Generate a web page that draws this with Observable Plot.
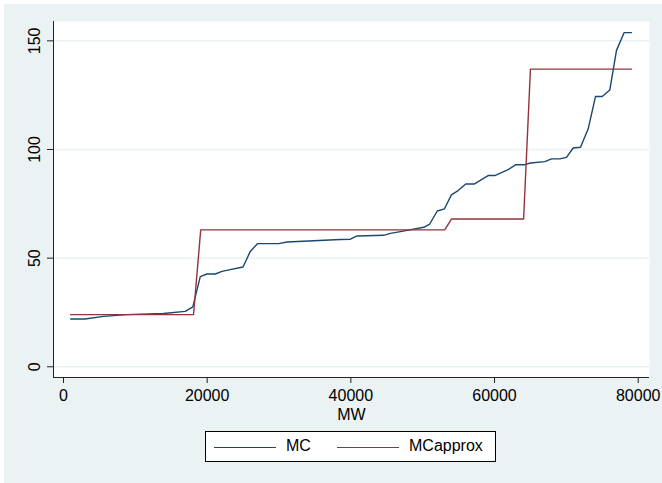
<!DOCTYPE html>
<html><head><meta charset="utf-8">
<script src="https://cdn.jsdelivr.net/npm/d3@7"></script>
<script src="https://cdn.jsdelivr.net/npm/@observablehq/plot@0.6"></script>
<style>
html,body{margin:0;padding:0;background:#fff;}
#page{position:relative;width:662px;height:483px;overflow:hidden;font-family:"Liberation Sans",Arial,Helvetica,sans-serif;}
#bg{position:absolute;left:4px;top:4px;right:0;bottom:0;background:#EAF2F3;}
#chart{position:absolute;left:0;top:0;}
#legend{position:absolute;left:205px;top:431px;width:289px;height:29px;border:1px solid #000;background:#fff;font-size:16px;color:#000;}
#legend .sw{position:absolute;top:15px;width:62px;height:0;border-top:1.4px solid;}
#legend .lb{position:absolute;top:5px;line-height:18px;}
</style>
</head><body>
<div id="page"><div id="bg"></div><div id="chart"></div><div id="legend"></div></div>
<script>
const seriesNames = ["MC", "MCapprox"];
const seriesColors = ["#1A476F", "#90353B"];
const xTicks = [0, 20000, 40000, 60000, 80000];
const yTicks = [0, 50, 100, 150];
const xDomain = [-1393, 81574];
const yDomain = [-4.93, 158.9];
const mcMW = [1000,3000,5600,8800,13900,16950,18000,19040,19970,21130,22060,23220,24990,26000,27020,29950,31120,38540,39930,40870,44570,45510,46900,50150,50980,52030,53030,54000,54930,56000,57160,59110,60030,61900,62960,64210,65000,67000,67930,69080,70020,70950,71970,73040,74060,74990,76050,76980,78050,79070];
const mcValues = [22,22,23.2,24,24.5,25.5,27.6,41.5,42.7,42.7,43.9,44.7,45.9,53.1,56.7,56.7,57.4,58.6,58.7,60.2,60.5,61.4,62.2,64.2,65.7,71.7,72.7,79.1,81.1,84.1,84.1,88,88,90.7,93,93,93.8,94.4,95.7,95.7,96.4,100.7,101,109.5,124.4,124.4,127.4,145.6,153.8,153.8];
const approxMW = [1000,18100,19100,53070,54000,64050,65000,79070];
const approxValues = [24,24,63,63,68,68,137,137];

const mcData = mcMW.map((x, i) => ({MW: x, v: mcValues[i]}));
const apData = approxMW.map((x, i) => ({MW: x, v: approxValues[i]}));

const chart = Plot.plot({
  width: 662, height: 425,
  marginLeft: 53, marginRight: 13, marginTop: 21, marginBottom: 48,
  style: {fontFamily: '"Liberation Sans",Arial,Helvetica,sans-serif', fontSize: "16px", background: "transparent", color: "#000", overflow: "visible"},
  x: {domain: xDomain},
  y: {domain: yDomain},
  marks: [
    Plot.frame({fill: "white", stroke: null}),
    Plot.gridY(yTicks, {stroke: "#EAF2F3", strokeOpacity: 1, strokeWidth: 1.5}),
    Plot.line(mcData, {x: "MW", y: "v", stroke: seriesColors[0], strokeWidth: 1.4}),
    Plot.line(apData, {x: "MW", y: "v", stroke: seriesColors[1], strokeWidth: 1.4}),
    Plot.ruleX([xDomain[0]], {stroke: "#222", strokeWidth: 1}),
    Plot.ruleY([yDomain[0]], {stroke: "#222", strokeWidth: 1}),
    Plot.axisY(yTicks, {anchor: "left", tickSize: 6, tickRotate: -90, tickPadding: 8, label: null, fontSize: 16, stroke: "#222"}),
    Plot.axisX(xTicks, {anchor: "bottom", tickSize: 6, tickPadding: 6, tickFormat: "d", label: "MW", labelAnchor: "center", labelOffset: 42, labelArrow: "none", fontSize: 16, stroke: "#222"})
  ]
});
document.getElementById("chart").appendChild(chart);

const leg = document.getElementById("legend");
const swLeft = [8, 131], lbLeft = [80, 203];
seriesNames.forEach((name, i) => {
  const sw = document.createElement("div");
  sw.className = "sw"; sw.style.left = swLeft[i] + "px"; sw.style.borderTopColor = seriesColors[i];
  leg.appendChild(sw);
  const lb = document.createElement("div");
  lb.className = "lb"; lb.style.left = lbLeft[i] + "px"; lb.textContent = name;
  leg.appendChild(lb);
});
</script>
</body></html>
